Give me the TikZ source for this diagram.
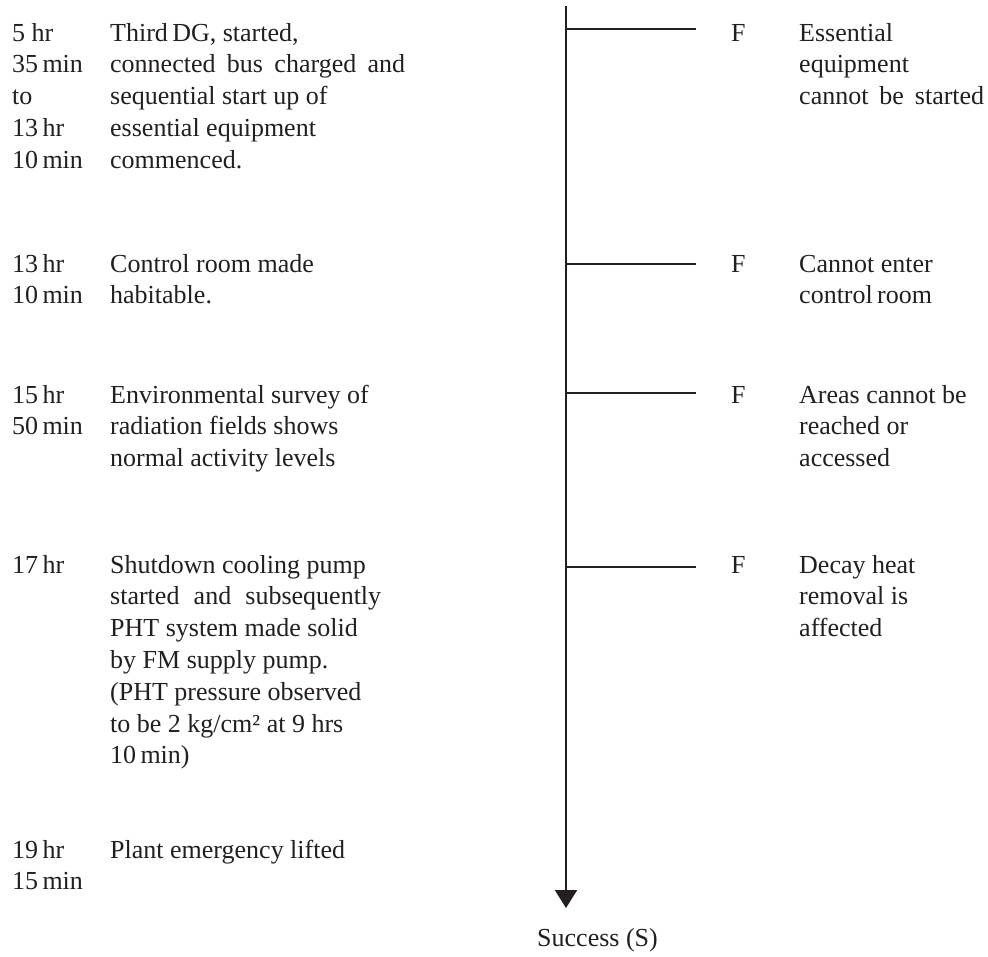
\documentclass[tikz,border=0pt]{standalone}
\usepackage{fontspec}
\setmainfont{Liberation Serif}
\usetikzlibrary{arrows.meta}
\definecolor{ink}{HTML}{231F20}

\begin{document}
\begin{tikzpicture}[x=1pt,y=-1pt,
  txt/.style={anchor=base west,inner sep=0pt,align=left,text=ink,
    font=\fontsize{26}{31.8}\selectfont},
  branch/.style={draw=ink,line width=1.2pt},
  spine/.style={draw=ink,line width=2.2pt,-{Triangle[width=22pt,length=18pt]}}]
  \useasboundingbox (0,0) rectangle (988,956);
  % time column (placed at the baseline of the last line)
  \node[txt] (t1) at (12,168.2) {5 hr\\35\,min\\to\\13\,hr\\10\,min};
  \node[txt] (t2) at (12,303.8) {13\,hr\\10\,min};
  \node[txt] (t3) at (12,434.8) {15\,hr\\50\,min};
  \node[txt] (t4) at (12,573) {17\,hr};
  \node[txt] (t5) at (12,889.8) {19\,hr\\15\,min};
  % events
  \node[txt] (e1) at (110,168.2) {Third\,DG, started,\\\makebox[295pt][s]{connected bus charged and}\\sequential start up of\\essential equipment\\commenced.};
  \node[txt] (e2) at (110,303.8) {Control room made\\habitable.};
  \node[txt] (e3) at (110,466.6) {Environmental survey of\\radiation fields shows\\normal activity levels};
  \node[txt] (e4) at (110,763.8) {Shutdown cooling pump\\\makebox[271pt][s]{started and subsequently}\\PHT system made solid\\by FM supply pump.\\(PHT pressure observed\\to be 2 kg/cm² at 9 hrs\\10\,min)};
  \node[txt] (e5) at (110,858) {Plant emergency lifted};
  % main line
  \coordinate (top) at (566,6);
  \coordinate (tip) at (566,908);
  \draw[spine] (top) -- (tip);
  \node[txt] (succ) at (537,946) {Success (S)};
  % failure branches
  \coordinate (b1) at (566,29);  \coordinate (c1) at (696,29);
  \coordinate (b2) at (566,264); \coordinate (c2) at (696,264);
  \coordinate (b3) at (566,393); \coordinate (c3) at (696,393);
  \coordinate (b4) at (566,567); \coordinate (c4) at (696,567);
  \draw[branch] (b1) -- (c1);
  \draw[branch] (b2) -- (c2);
  \draw[branch] (b3) -- (c3);
  \draw[branch] (b4) -- (c4);
  \node[txt] (f1) at (731,41) {F};
  \node[txt] (f2) at (731,272) {F};
  \node[txt] (f3) at (731,403) {F};
  \node[txt] (f4) at (731,573) {F};
  \node[txt] (r1) at (799,104.6) {Essential\\equipment\\\makebox[185pt][s]{cannot be started}};
  \node[txt] (r2) at (799,303.8) {Cannot enter\\control\,room};
  \node[txt] (r3) at (799,466.6) {Areas cannot be\\reached or\\accessed};
  \node[txt] (r4) at (799,636.6) {Decay heat\\removal is\\affected};
\end{tikzpicture}
\end{document}
